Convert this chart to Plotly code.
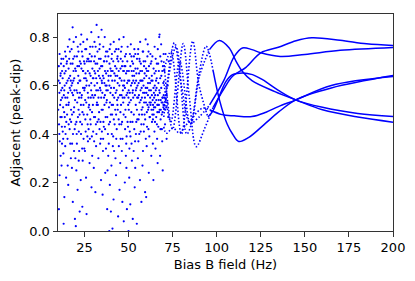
import plotly.graph_objects as go

# ---- data ----
cloud_x = [10.3,10.6,10.9,11.2,11.5,11.8,12.1,12.3,10.5,11.0,11.7,12.4,10.8,12.0,11.4,
12.7,13.0,13.2,13.5,13.8,14.1,14.4,14.7,13.3,14.0,14.6,12.9,13.9,14.8,13.6,
15.1,15.4,15.6,15.9,16.2,16.5,16.8,17.1,17.3,15.3,16.0,16.6,17.2,15.8,16.9,17.4,
17.7,18.0,18.3,18.5,18.8,19.1,19.4,19.7,18.1,18.9,19.6,17.9,19.2,18.6,19.9,18.4,
20.2,20.5,20.7,21.0,21.3,21.6,21.9,22.2,20.4,21.1,21.8,22.4,20.9,21.5,22.0,20.1,22.3,
22.7,23.0,23.3,23.6,23.9,24.2,24.5,24.8,22.9,23.5,24.0,24.6,23.2,24.3,22.6,24.9,23.8,
25.1,25.4,25.7,26.0,26.3,26.6,26.9,27.2,25.3,25.9,26.5,27.0,27.4,25.6,26.2,26.8,
27.7,28.0,28.3,28.6,28.9,29.2,29.5,29.8,27.9,28.5,29.0,29.6,28.2,29.4,27.6,28.8,
30.1,30.4,30.7,31.0,31.3,31.6,31.9,32.2,30.3,30.9,31.5,32.1,30.6,31.2,32.4,31.8,
32.7,33.0,33.3,33.6,33.9,34.2,34.5,34.8,32.9,33.5,34.1,34.7,33.2,34.4,32.6,33.8,34.9,
35.1,35.4,35.7,36.0,36.3,36.6,36.9,37.2,35.3,35.9,36.5,37.0,37.4,35.6,36.2,36.8,37.3,
37.7,38.0,38.3,38.6,38.9,39.2,39.5,39.8,37.9,38.5,39.1,39.7,38.2,39.4,37.6,38.8,39.9,
40.1,40.4,40.7,41.0,41.3,41.6,41.9,42.2,40.3,40.9,41.5,42.1,40.6,41.2,41.8,42.4,40.0,
42.7,43.0,43.3,43.6,43.9,44.2,44.5,44.8,42.9,43.5,44.1,44.7,43.2,44.4,42.6,43.8,44.9,
45.1,45.4,45.7,46.0,46.3,46.6,46.9,47.2,45.3,45.9,46.5,47.0,47.4,45.6,46.2,46.8,47.3,
47.7,48.0,48.3,48.6,48.9,49.2,49.5,49.8,47.9,48.5,49.1,49.7,48.2,49.4,47.6,48.8,50.0,
50.2,50.5,50.8,51.1,51.4,51.7,52.0,52.3,50.4,51.0,51.6,52.2,50.7,51.3,51.9,52.4,50.1,
52.7,53.0,53.3,53.6,53.9,54.2,54.5,54.8,52.9,53.5,54.1,54.7,53.2,54.4,52.6,53.8,54.9,
55.1,55.4,55.7,56.0,56.3,56.6,56.9,57.2,55.3,55.9,56.5,57.0,57.4,55.6,56.2,56.8,57.3,
57.7,58.0,58.3,58.6,58.9,59.2,59.5,59.8,57.9,58.5,59.1,59.7,58.2,59.4,57.6,58.8,59.9,
60.1,60.4,60.7,61.0,61.3,61.6,61.9,62.2,60.3,60.9,61.5,62.1,60.6,61.2,61.8,62.4,60.0,61.4,
62.7,63.0,63.3,63.6,63.9,64.2,64.5,64.8,62.9,63.5,64.1,64.7,63.2,64.4,62.6,63.8,64.9,64.0,
65.1,65.4,65.7,66.0,66.3,66.6,66.9,67.2,65.3,65.9,66.5,67.1,67.4,65.6,66.2,66.8,67.3,65.0,
67.7,68.0,68.3,68.6,68.9,69.2,69.5,69.8,67.9,68.5,69.1,69.7,68.2,69.4,67.6,68.8,69.9,69.3,
70.2,70.5,70.8,71.1,71.4,71.7,70.4,71.0,71.6,72.2,72.5,70.7,72.0,72.8]
cloud_y = [0.62,0.44,0.73,0.52,0.31,0.58,0.47,0.66,0.09,0.37,0.69,0.55,0.57,0.27,0.64,
0.41,0.71,0.03,0.49,0.60,0.35,0.66,0.45,0.56,0.74,0.22,0.51,0.43,0.61,0.14,
0.70,0.38,0.76,0.52,0.63,0.79,0.46,0.58,0.30,0.55,0.67,0.42,0.69,0.19,0.64,0.50,
0.75,0.57,0.84,0.40,0.66,0.33,0.72,0.54,0.61,0.49,0.05,0.26,0.63,0.71,0.44,0.12,
0.80,0.58,0.36,0.68,0.47,0.74,0.55,0.62,0.25,0.17,0.41,0.70,0.53,0.64,0.33,0.02,0.08,
0.77,0.52,0.67,0.44,0.72,0.59,0.38,0.63,0.21,0.56,0.29,0.48,0.81,0.66,0.45,0.34,0.10,
0.69,0.54,0.41,0.75,0.62,0.48,0.57,0.71,0.33,0.22,0.79,0.37,0.51,0.65,0.07,0.44,
0.60,0.73,0.46,0.55,0.82,0.39,0.67,0.52,0.28,0.64,0.18,0.76,0.50,0.31,0.70,0.58,
0.63,0.47,0.78,0.56,0.69,0.35,0.85,0.61,0.26,0.72,0.44,0.53,0.66,0.16,0.74,0.40,
0.58,0.80,0.49,0.67,0.36,0.71,0.55,0.62,0.30,0.75,0.45,0.83,0.64,0.21,0.52,0.59,0.41,
0.68,0.50,0.76,0.43,0.61,0.56,0.72,0.34,0.15,0.63,0.80,0.47,0.58,0.38,0.70,0.24,0.65,
0.54,0.74,0.40,0.62,0.51,0.69,0.45,0.77,0.09,0.31,0.00,0.57,0.66,0.19,0.60,0.36,0.64,
0.59,0.71,0.48,0.66,0.39,0.78,0.55,0.62,0.27,0.01,0.13,0.44,0.73,0.52,0.33,0.68,0.08,
0.57,0.75,0.42,0.64,0.50,0.70,0.35,0.60,0.23,0.54,0.06,0.79,0.67,0.46,0.30,0.72,0.17,
0.63,0.49,0.74,0.56,0.68,0.38,0.60,0.80,0.28,0.44,0.12,0.53,0.66,0.71,0.33,0.58,0.04,
0.55,0.72,0.47,0.65,0.39,0.61,0.76,0.52,0.20,0.31,0.09,0.43,0.68,0.57,0.62,0.26,0.00,
0.66,0.53,0.73,0.45,0.60,0.36,0.70,0.57,0.22,0.11,0.49,0.64,0.41,0.77,0.29,0.05,0.58,
0.62,0.48,0.75,0.56,0.67,0.40,0.59,0.71,0.33,0.18,0.52,0.03,0.64,0.45,0.69,0.26,0.55,
0.60,0.73,0.46,0.65,0.53,0.78,0.41,0.62,0.30,0.56,0.21,0.69,0.50,0.37,0.71,0.58,0.12,
0.66,0.51,0.74,0.44,0.63,0.57,0.70,0.38,0.27,0.60,0.48,0.79,0.33,0.16,0.55,0.68,0.53,
0.64,0.49,0.72,0.56,0.42,0.68,0.53,0.61,0.35,0.77,0.24,0.47,0.59,0.66,0.39,0.73,0.14,0.51,
0.58,0.70,0.45,0.62,0.52,0.67,0.55,0.76,0.31,0.48,0.21,0.41,0.64,0.57,0.69,0.36,0.60,0.50,
0.56,0.71,0.47,0.63,0.52,0.75,0.43,0.66,0.34,0.59,0.28,0.54,0.80,0.62,0.38,0.69,0.49,0.45,
0.57,0.72,0.50,0.64,0.42,0.55,0.68,0.52,0.31,0.77,0.37,0.61,0.46,0.25,0.81,0.53,0.73,0.49,
0.52,0.55,0.50,0.54,0.51,0.56,0.66,0.73,0.38,0.60,0.47,0.44,0.53,0.70]

# second layer of the dense band (0.3 - 0.8)
cloud2_x = [10.15,10.45,10.75,11.05,11.35,11.65,11.95,12.25,12.45,10.9,11.5,12.2,
12.65,12.95,13.25,13.55,13.85,14.15,14.45,14.75,13.05,13.7,14.3,14.9,
15.15,15.45,15.75,16.05,16.35,16.65,16.95,17.25,15.5,16.15,16.75,17.45,
17.65,17.95,18.25,18.55,18.85,19.15,19.45,19.75,18.0,18.7,19.3,19.85,
20.15,20.45,20.75,21.05,21.35,21.65,21.95,22.25,20.6,21.2,21.75,22.45,
22.65,22.95,23.25,23.55,23.85,24.15,24.45,24.75,23.05,23.7,24.35,24.95,
25.15,25.45,25.75,26.05,26.35,26.65,26.95,27.25,25.5,26.1,26.7,27.35,
27.65,27.95,28.25,28.55,28.85,29.15,29.45,29.75,28.05,28.7,29.3,29.95,
30.15,30.45,30.75,31.05,31.35,31.65,31.95,32.25,30.5,31.1,31.7,32.35,
32.65,32.95,33.25,33.55,33.85,34.15,34.45,34.75,33.05,33.7,34.3,34.95,
35.15,35.45,35.75,36.05,36.35,36.65,36.95,37.25,35.5,36.1,36.7,37.45,
37.65,37.95,38.25,38.55,38.85,39.15,39.45,39.75,38.1,38.7,39.3,39.95,
40.15,40.45,40.75,41.05,41.35,41.65,41.95,42.25,40.5,41.1,41.75,42.45,
42.65,42.95,43.25,43.55,43.85,44.15,44.45,44.75,43.05,43.7,44.3,44.95,
45.15,45.45,45.75,46.05,46.35,46.65,46.95,47.25,45.5,46.1,46.7,47.45,
47.65,47.95,48.25,48.55,48.85,49.15,49.45,49.75,48.05,48.7,49.3,49.95,
50.15,50.45,50.75,51.05,51.35,51.65,51.95,52.25,50.5,51.1,51.8,52.45,
52.65,52.95,53.25,53.55,53.85,54.15,54.45,54.75,53.05,53.7,54.3,54.95,
55.15,55.45,55.75,56.05,56.35,56.65,56.95,57.25,55.5,56.1,56.7,57.45,
57.65,57.95,58.25,58.55,58.85,59.15,59.45,59.75,58.05,58.7,59.3,59.95,
60.15,60.45,60.75,61.05,61.35,61.65,61.95,62.25,60.5,61.1,61.75,62.45,
62.65,62.95,63.25,63.55,63.85,64.15,64.45,64.75,63.05,63.7,64.3,64.95,
65.15,65.45,65.75,66.05,66.35,66.65,66.95,67.25,65.5,66.1,66.7,67.45,
67.65,67.95,68.25,68.55,68.85,69.15,69.45,69.75,68.1,68.7,69.3,69.95]
cloud2_y = [0.50,0.68,0.40,0.61,0.47,0.54,0.71,0.36,0.59,0.23,0.65,0.43,
0.63,0.38,0.68,0.58,0.47,0.55,0.72,0.52,0.32,0.65,0.40,0.69,
0.48,0.62,0.57,0.44,0.71,0.59,0.36,0.62,0.27,0.53,0.74,0.45,
0.60,0.48,0.69,0.56,0.78,0.51,0.42,0.67,0.36,0.62,0.58,0.30,
0.66,0.45,0.72,0.57,0.61,0.50,0.68,0.48,0.40,0.76,0.29,0.57,
0.62,0.69,0.55,0.74,0.49,0.66,0.52,0.70,0.40,0.34,0.78,0.58,
0.59,0.75,0.63,0.53,0.70,0.39,0.66,0.55,0.46,0.60,0.71,0.42,
0.52,0.65,0.76,0.44,0.61,0.72,0.56,0.63,0.38,0.70,0.49,0.41,
0.55,0.70,0.60,0.47,0.76,0.63,0.52,0.69,0.37,0.65,0.58,0.45,
0.66,0.55,0.71,0.42,0.63,0.58,0.68,0.50,0.46,0.77,0.38,0.61,
0.57,0.64,0.45,0.70,0.52,0.66,0.60,0.74,0.33,0.55,0.42,0.53,
0.70,0.47,0.58,0.72,0.44,0.60,0.53,0.67,0.25,0.64,0.75,0.48,
0.66,0.52,0.62,0.56,0.70,0.46,0.65,0.74,0.40,0.35,0.59,0.50,
0.64,0.48,0.58,0.71,0.61,0.55,0.66,0.44,0.38,0.52,0.75,0.63,
0.56,0.67,0.52,0.62,0.45,0.70,0.66,0.48,0.38,0.76,0.55,0.60,
0.68,0.59,0.50,0.73,0.56,0.66,0.45,0.62,0.42,0.36,0.70,0.55,
0.50,0.62,0.57,0.68,0.54,0.72,0.61,0.45,0.34,0.39,0.66,0.58,
0.55,0.66,0.42,0.61,0.73,0.58,0.65,0.50,0.72,0.37,0.62,0.46,
0.67,0.55,0.61,0.48,0.70,0.62,0.54,0.44,0.75,0.40,0.66,0.59,
0.48,0.62,0.57,0.70,0.53,0.65,0.46,0.59,0.74,0.41,0.55,0.67,
0.57,0.66,0.52,0.61,0.74,0.58,0.47,0.55,0.43,0.50,0.63,0.52,
0.53,0.62,0.56,0.72,0.46,0.59,0.51,0.65,0.50,0.54,0.48,0.53,
0.51,0.58,0.54,0.69,0.49,0.56,0.61,0.52,0.66,0.44,0.52,0.58,
0.50,0.63,0.54,0.59,0.48,0.66,0.55,0.51,0.42,0.70,0.53,0.56]

# smooth branches (x, y) key points, x >= 70
c1_x = [70,75,81,84.5,88.4,93,98,104,109,116.6,125,135,145,154,170,185,200]
c1_y = [0.70,0.42,0.773,0.55,0.348,0.42,0.51,0.585,0.638,0.675,0.735,0.758,0.785,0.797,0.787,0.772,0.765]
c2_x = [70,76,80,85,90,96,104,110,114.6,120,125,136,150,170,200]
c2_y = [0.47,0.776,0.60,0.445,0.47,0.52,0.62,0.72,0.755,0.748,0.735,0.72,0.728,0.745,0.757]
c3_x = [70,74,79,85,90,94,98,101.6,106,109,112.5,118,127.8,135,144.8,165,200]
c3_y = [0.62,0.45,0.70,0.44,0.65,0.762,0.66,0.54,0.44,0.40,0.369,0.385,0.445,0.49,0.541,0.59,0.641]
c4_x = [70,71.4,75.2,79,81.8,85.5,88.4,92.1,96,103,110,120,128,135,145,165,200]
c4_y = [0.43,0.403,0.424,0.403,0.431,0.458,0.486,0.507,0.50,0.48,0.475,0.472,0.49,0.513,0.541,0.60,0.637]
c5_x = [70,74,80,86.4,90,95,97.7,105.3,109,114.6,120.3,126,135,144.8,160,180,200]
c5_y = [0.66,0.74,0.40,0.783,0.60,0.47,0.493,0.617,0.645,0.652,0.645,0.624,0.58,0.541,0.51,0.485,0.472]
c6_x = [70,77,83,86,90.2,95.9,101.5,107,111,114.6,120,133,144.8,160,180,200]
c6_y = [0.50,0.76,0.40,0.45,0.638,0.748,0.786,0.756,0.70,0.658,0.62,0.575,0.541,0.50,0.47,0.449]

x_ticks = [25, 50, 75, 100, 125, 150, 175, 200]
y_ticks = [0.0, 0.2, 0.4, 0.6, 0.8]

BLUE = "#0000ff"
SPLIT = 95

fig = go.Figure()
fig.add_trace(go.Scatter(x=cloud_x + cloud2_x, y=cloud_y + cloud2_y, mode="markers",
                         marker=dict(color=BLUE, size=2.2, line=dict(width=0)),
                         showlegend=False, hoverinfo="skip"))

for cx, cy in [(c1_x, c1_y), (c2_x, c2_y), (c3_x, c3_y), (c4_x, c4_y), (c5_x, c5_y), (c6_x, c6_y)]:
    k = next(i for i, v in enumerate(cx) if v >= SPLIT)
    fig.add_trace(go.Scatter(x=cx[:k + 1], y=cy[:k + 1], mode="lines",
                             line=dict(color=BLUE, width=1.6, shape="spline", dash="1.5px,2px"),
                             showlegend=False, hoverinfo="skip"))
    fig.add_trace(go.Scatter(x=cx[k:], y=cy[k:], mode="lines",
                             line=dict(color=BLUE, width=1.5, shape="spline"),
                             showlegend=False, hoverinfo="skip"))

axis_common = dict(showline=True, linecolor="#333333", linewidth=1, mirror=True,
                   ticks="outside", ticklen=4.5, tickwidth=1, tickcolor="#333333",
                   showgrid=False, zeroline=False,
                   tickfont=dict(family="DejaVu Sans", size=13, color="black"))

# page body has an 8px default margin, so the figure is sized to fit inside the window
fig.update_layout(
    width=407, height=273,
    margin=dict(l=50, r=22, t=6, b=50),
    paper_bgcolor="white", plot_bgcolor="white",
    font=dict(family="DejaVu Sans", size=13, color="black"),
    xaxis=dict(range=[10, 200], tickvals=x_ticks,
               title=dict(text="Bias B field (Hz)", font=dict(size=13), standoff=5),
               **axis_common),
    yaxis=dict(range=[0, 0.895], tickvals=y_ticks, tickformat=".1f",
               title=dict(text="Adjacent (peak-dip)", font=dict(size=13), standoff=5),
               **axis_common),
)

fig.write_html("out.html")
